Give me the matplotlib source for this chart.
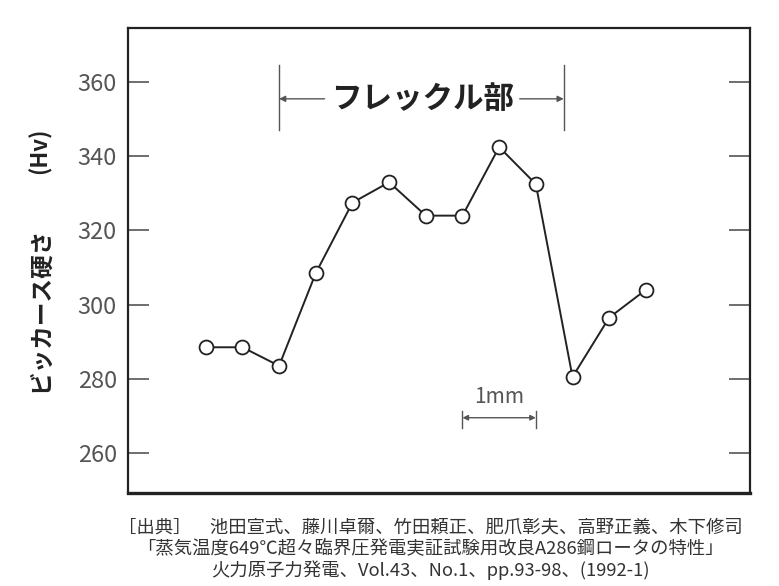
import matplotlib
matplotlib.use("Agg")
import matplotlib.pyplot as plt

plt.rcParams['font.family'] = ['Noto Sans CJK JP', 'DejaVu Sans']

# position along the specimen (mm) and Vickers hardness (Hv)
pos_mm = [0.0, 0.5, 1.0, 1.5, 2.0, 2.5, 3.0, 3.5, 4.0, 4.5, 5.0, 5.5, 6.0]
hardness = [288.5, 288.5, 283.5, 308.5, 327.5, 333, 324, 324, 342.5, 332.5, 280.5, 296.5, 304]

y_ticks = [260, 280, 300, 320, 340, 360]
ylabel_main = "ビッカース硬さ"
ylabel_unit = "(Hv)"
freckle_label = "フレックル部"
freckle_span = (1.0, 4.88)
scale_label = "1mm"
caption = ("［出典］　池田宣式、藤川卓爾、竹田頼正、肥爪彰夫、高野正義、木下修司\n"
           "「蒸気温度649℃超々臨界圧発電実証試験用改良A286鋼ロータの特性」\n"
           "火力原子力発電、Vol.43、No.1、pp.93-98、(1992-1)")

ink = "#222222"
grey = "#555555"

fig = plt.figure(figsize=(7.79, 5.86), dpi=100)
ax = fig.add_axes([0.1643, 0.1587, 0.7985, 0.7935])

ax.plot(pos_mm, hardness, color=ink, lw=1.4, marker='o', ms=10,
        mfc='white', mec=ink, mew=1.3, zorder=3)

ax.set_xlim(-1.06, 7.42)
ax.set_ylim(249.2, 374.6)
ax.set_xticks([])
ax.set_yticks(y_ticks)
ax.tick_params(axis='y', direction='in', length=15, width=1.2, color=grey,
               labelsize=17, labelcolor=grey, pad=8, right=True)
for side in ['left', 'right', 'top']:
    ax.spines[side].set_linewidth(1.6)
    ax.spines[side].set_color(ink)
ax.spines['bottom'].set_linewidth(2.4)
ax.spines['bottom'].set_color(ink)

# y label in two pieces, as in the original
fig.text(0.051, 0.472, ylabel_main, rotation=90, ha='center', va='center',
         fontsize=17, fontweight='bold', color=ink)
fig.text(0.051, 0.742, ylabel_unit, rotation=90, ha='center', va='center',
         fontsize=16, fontweight='bold', color=ink)

# freckle zone marker
y_arr = 355.5
for x in freckle_span:
    ax.plot([x, x], [347.0, 364.6], color=grey, lw=1.0)
ax.text(2.95, y_arr, freckle_label, ha='center', va='center', fontsize=22,
        fontweight='bold', color=ink)
arr = dict(arrowstyle='-|>', color=grey, lw=1.0, mutation_scale=9,
           shrinkA=0, shrinkB=0)
ax.annotate('', xy=(freckle_span[0], y_arr), xytext=(1.62, y_arr), arrowprops=arr)
ax.annotate('', xy=(freckle_span[1], y_arr), xytext=(4.28, y_arr), arrowprops=arr)

# 1 mm scale bar
ax.annotate('', xy=(3.5, 269.5), xytext=(4.5, 269.5),
            arrowprops=dict(arrowstyle='<|-|>', color=grey, lw=1.0,
                            mutation_scale=8, shrinkA=0, shrinkB=0))
for x in (3.5, 4.5):
    ax.plot([x, x], [266.8, 271.2], color=grey, lw=1.0)
ax.text(4.0, 275.2, scale_label, ha='center', va='center', fontsize=15,
        color=grey)

fig.text(0.552, 0.063, caption, ha='center', va='center', fontsize=13.2,
         color='#333333', linespacing=1.2)

fig.savefig("out.png", dpi=100)
